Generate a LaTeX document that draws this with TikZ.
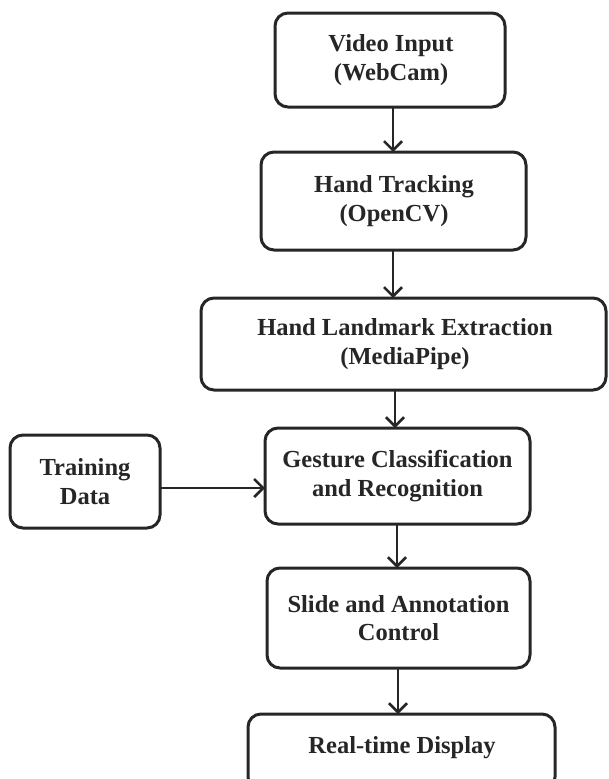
\documentclass[tikz,border=0pt]{standalone}
\usepackage{fontspec}
\setmainfont{Liberation Serif}
\usetikzlibrary{arrows.meta}
\begin{document}
\begin{tikzpicture}[x=1pt,y=-1pt,
  box/.style={draw=black!85, line width=3pt, rounded corners=13pt},
  lbl/.style={font=\fontsize{24.5}{28.5}\selectfont\bfseries, text=black!85, align=center},
  arr/.style={line width=2.8pt, draw=black!85, -{Straight Barb[length=9pt,width=18pt,line width=2.6pt]}}]
\useasboundingbox (0,0) rectangle (608,779);
\fill[white] (0,0) rectangle (608,779);
% boxes
\draw[box] (275,13) rectangle (505,107);
\node[lbl] (b1) at (391,60) {Video Input\\(WebCam)};
\draw[box] (261,152) rectangle (526,250);
\node[lbl] (b2) at (394,201) {Hand Tracking\\(OpenCV)};
\draw[box] (201,298) rectangle (606,390);
\node[lbl] (b3) at (405,344) {Hand Landmark Extraction\\(MediaPipe)};
\draw[box] (265,428) rectangle (530,524);
\node[lbl] (b4) at (397.5,476) {Gesture Classification\\and Recognition};
\draw[box] (10,435) rectangle (160,528);
\node[lbl] (bt) at (85,481.5) {Training\\Data};
\draw[box] (267,568) rectangle (530,668);
\node[lbl] (b5) at (398.5,618) {Slide and Annotation\\Control};
\draw[box] (248,714) rectangle (555,790);
\node[lbl] (b6) at (402,748) {Real-time Display};
% anchors for connectors
\coordinate (s1) at (393,107); \coordinate (n2) at (393,152);
\coordinate (s2) at (393,250); \coordinate (n3) at (393,298);
\coordinate (s3) at (395,390); \coordinate (n4) at (395,428);
\coordinate (s4) at (397,524); \coordinate (n5) at (397,568);
\coordinate (s5) at (398,668); \coordinate (n6) at (398,714);
\coordinate (et) at (160,488); \coordinate (w4) at (265,488);
\draw[arr] (s1) -- (n2);
\draw[arr] (s2) -- (n3);
\draw[arr] (s3) -- (n4);
\draw[arr] (s4) -- (n5);
\draw[arr] (s5) -- (n6);
\draw[arr] (et) -- (w4);
\end{tikzpicture}
\end{document}
